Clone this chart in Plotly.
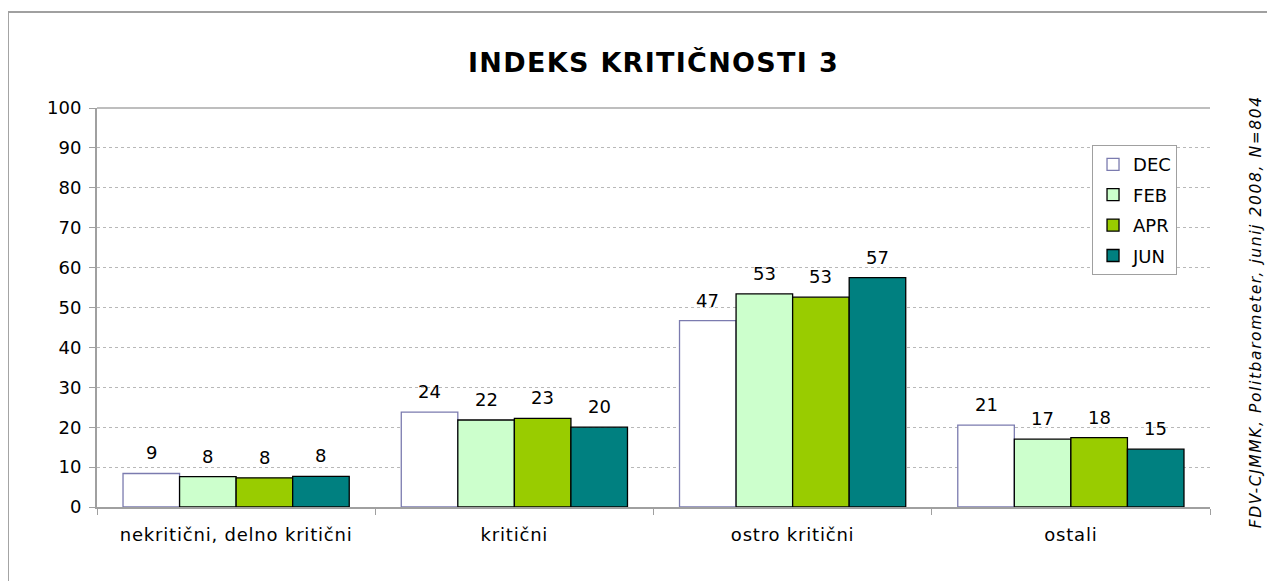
import plotly.graph_objects as go

categories = ["nekritični, delno kritični", "kritični", "ostro kritični", "ostali"]
series_names = ["DEC", "FEB", "APR", "JUN"]
dec_values = [8.4, 23.8, 46.7, 20.5]
feb_values = [7.6, 21.8, 53.4, 17.0]
apr_values = [7.3, 22.2, 52.6, 17.4]
jun_values = [7.7, 20.0, 57.5, 14.5]
dec_labels = ["9", "24", "47", "21"]
feb_labels = ["8", "22", "53", "17"]
apr_labels = ["8", "23", "53", "18"]
jun_labels = ["8", "20", "57", "15"]
y_ticks = [0, 10, 20, 30, 40, 50, 60, 70, 80, 90, 100]

values = [dec_values, feb_values, apr_values, jun_values]
labels = [dec_labels, feb_labels, apr_labels, jun_labels]
fills = ["#FFFFFF", "#CCFFCC", "#99CC00", "#008080"]
outlines = ["#7B7BAF", "#000000", "#000000", "#000000"]

FONT = "DejaVu Sans, Verdana, sans-serif"
BARGAP = 0.187


def spaced(s, px):
    return f"<span style='letter-spacing:{px}px'>{s}</span>"


fig = go.Figure()
for i, name in enumerate(series_names):
    fig.add_trace(go.Bar(
        x=categories, y=values[i], name=name,
        marker=dict(color=fills[i], line=dict(color=outlines[i], width=1.3)),
        legendgroup=name,
    ))

# value labels above bars
n = len(series_names)
w = (1 - BARGAP) / n
for i in range(n):
    off = (i - (n - 1) / 2) * w
    for j, cat in enumerate(categories):
        fig.add_annotation(
            x=j + off, y=values[i][j], xref="x", yref="y",
            text=labels[i][j], showarrow=False, yanchor="bottom",
            yshift=8, font=dict(family=FONT, size=18, color="#000000"),
        )

fig.add_annotation(
    text="<i>" + spaced("FDV-CJMMK, Politbarometer, junij 2008, N=804", 1.6) + "</i>",
    xref="paper", yref="paper", x=1.052, y=0.49, textangle=-90,
    showarrow=False, font=dict(family=FONT, size=15.5, color="#000000"),
)

# outer frame of the chart
fig.add_shape(type="line", xref="paper", yref="paper",
              x0=-0.080, y0=1.2406, x1=1.07, y1=1.2406,
              line=dict(color="#A0A0A0", width=2))
fig.add_shape(type="line", xref="paper", yref="paper",
              x0=-0.080, y0=1.2406, x1=-0.080, y1=-0.25,
              line=dict(color="#A0A0A0", width=2))
# solid top line of plot area
fig.add_shape(type="line", xref="paper", yref="paper",
              x0=0, y0=1, x1=1, y1=1,
              line=dict(color="#A8A8A8", width=1.3))

fig.update_layout(
    width=1267, height=573,
    margin=dict(l=89, r=65, t=100, b=74, autoexpand=False),
    paper_bgcolor="#FFFFFF", plot_bgcolor="#FFFFFF",
    barmode="group", bargap=BARGAP, bargroupgap=0,
    title=dict(text="<b>" + spaced("INDEKS KRITIČNOSTI 3", 1.3) + "</b>",
               x=0.5, xref="paper", y=0.905, yanchor="middle",
               font=dict(family=FONT, size=27, color="#000000")),
    font=dict(family=FONT, size=18, color="#000000"),
    showlegend=True,
    legend=dict(x=0.894, y=0.907, xanchor="left", yanchor="top",
                bgcolor="#FFFFFF", bordercolor="#A0A0A0", borderwidth=1,
                font=dict(family=FONT, size=18), tracegroupgap=4,
                itemwidth=30),
)
fig.update_yaxes(range=[0, 100], tickvals=y_ticks, showgrid=True,
                 gridcolor="#B8B8B8", griddash="dot", gridwidth=1,
                 showline=True, linecolor="#A0A0A0", linewidth=2,
                 ticks="outside", ticklen=6, tickcolor="#A0A0A0",
                 ticklabelstandoff=4,
                 zeroline=False, tickfont=dict(size=18))
fig.update_xaxes(showline=True, linecolor="#A0A0A0", linewidth=2,
                 ticks="outside", tickson="boundaries", ticklen=6,
                 tickcolor="#A0A0A0", ticklabelstandoff=10,
                 tickvals=categories,
                 ticktext=[spaced(c, 0.8) for c in categories],
                 tickfont=dict(size=18))

fig.write_html("out.html")
